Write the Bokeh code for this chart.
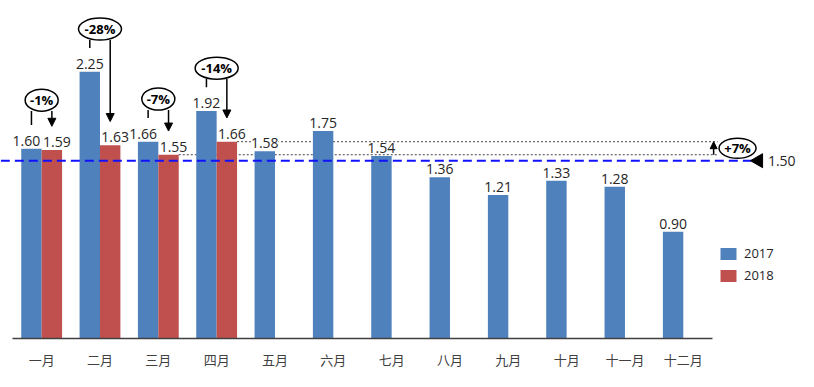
import math
from bokeh.plotting import figure
from bokeh.models import Range1d, FixedTicker, Arrow, NormalHead, Legend, LegendItem
from bokeh.core.properties import value
from bokeh.embed import file_html
from bokeh.resources import INLINE

# ---------------- data ----------------
months = ["一月", "二月", "三月", "四月", "五月", "六月",
          "七月", "八月", "九月", "十月", "十一月", "十二月"]
v2017 = [1.60, 2.25, 1.66, 1.92, 1.58, 1.75, 1.54, 1.36, 1.21, 1.33, 1.28, 0.90]
v2018 = [1.59, 1.63, 1.55, 1.66]
target = 1.50
series_names = ["2017", "2018"]

# ---------------- style ----------------
BLUE = "#4F81BD"
RED = "#C0504D"
TXT = "#262626"
AXT = "#404040"
FONT = "Open Sans"
CJK = "Noto Sans CJK SC"
W = 0.35
PPU = 119.6  # pixels per value unit (for annotation gaps)

p = figure(width=798, height=371, output_backend="svg", toolbar_location=None,
           x_range=Range1d(-0.2057, 13.475), y_range=Range1d(-0.0167, 2.851),
           y_axis_location=None,
           min_border_left=0, min_border_right=0, min_border_top=0,
           min_border_bottom=28)
p.outline_line_color = None
p.grid.visible = False

n = len(months)
xb = [i + 0.5 - W / 2 for i in range(n)]
xr = [i + 0.5 + W / 2 for i in range(len(v2018))]

# x axis
ax = p.xaxis[0]
ax.ticker = FixedTicker(ticks=[i + 0.5 for i in range(n)])
ax.major_label_overrides = {i + 0.5: m for i, m in enumerate(months)}
ax.axis_line_color = None
ax.major_tick_line_color = None
ax.minor_tick_line_color = None
ax.major_label_standoff = 3
ax.major_label_text_font = CJK
ax.major_label_text_font_size = "13px"
ax.major_label_text_color = AXT

# dotted comparison lines (behind bars)
i3, i4 = len(v2018) - 2, len(v2018) - 1
xend = 12.09
p.segment(x0=[i3 + 0.5 + W, i4 + 0.5 + W], y0=[v2018[i3], v2018[i4]],
          x1=[xend, xend], y1=[v2018[i3], v2018[i4]],
          line_color=AXT, line_width=1, line_dash="2 2")

# bars
rb = p.vbar(x=xb, top=v2017, width=W, fill_color=BLUE, line_color=None)
rr = p.vbar(x=xr, top=v2018, width=W, fill_color=RED, line_color=None)

# baseline
p.segment(x0=[0], y0=[0], x1=[n], y1=[0], line_color=AXT, line_width=1.5)

# target dashed line
p.segment(x0=[-0.2], y0=[target], x1=[12.67], y1=[target],
          line_color="#1010FF", line_width=2, line_dash="9 5")

# value labels
xoff_b = [(-5 if (i < len(v2018) and abs(v2017[i] - v2018[i]) < 0.15) else 0)
          for i in range(n)]
p.text(x=xb, y=v2017, text=[f"{v:.2f}" for v in v2017], text_align="center",
       text_baseline="bottom", y_offset=-3, x_offset=xoff_b, text_font=value(FONT),
       text_font_size="14px", text_color=TXT, background_fill_color="white")
p.text(x=xr, y=v2018, text=[f"{v:.2f}" for v in v2018], text_align="center",
       text_baseline="bottom", y_offset=-3, x_offset=5, text_font=value(FONT),
       text_font_size="14px", text_color=TXT, background_fill_color="white")

# year-over-year change annotations
half_h = 11 / PPU
for i, (a, b) in enumerate(zip(v2017, v2018)):
    pct = round((b / a - 1) * 100)
    txt = f"{pct:+d}%"
    ey = max(max(a, b) + 0.36, 2.01)
    cx = i + 0.5
    p.ellipse(x=[cx], y=[ey], width=[10 * len(txt) + 3], height=[22],
              width_units="screen", height_units="screen",
              fill_color="white", line_color="black", line_width=1.5)
    p.text(x=[cx], y=[ey], text=[txt], text_align="center", text_baseline="middle",
           text_font=value(FONT), text_font_style="bold", text_font_size="13px",
           text_color="black")
    p.segment(x0=[cx - W / 2], y0=[ey - half_h], x1=[cx - W / 2], y1=[a + 0.2],
              line_color="black", line_width=1.5)
    p.add_layout(Arrow(x_start=cx + W / 2, y_start=ey - half_h,
                       x_end=cx + W / 2, y_end=b + 0.2, line_width=1.5,
                       end=NormalHead(size=8, fill_color="black", line_color="black")))

# right-side +7% annotation
pct2 = round((v2018[i4] / v2018[i3] - 1) * 100)
p.add_layout(Arrow(x_start=12.02, y_start=v2018[i3], x_end=12.02, y_end=v2018[i4],
                   line_width=1.5,
                   end=NormalHead(size=7, fill_color="black", line_color="black")))
ym = (v2018[i3] + v2018[i4]) / 2
p.ellipse(x=[12.43], y=[ym], width=[37], height=[20],
          width_units="screen", height_units="screen",
          fill_color="white", line_color="black", line_width=1.5)
p.text(x=[12.43], y=[ym], text=[f"{pct2:+d}%"], text_align="center",
       text_baseline="middle", text_font=value(FONT), text_font_style="bold",
       text_font_size="13px", text_color="black")

# target marker and label
p.scatter(x=[12.79], y=[target], marker="triangle", size=14, angle=math.pi / 2,
          fill_color="black", line_color="black")
p.text(x=[12.95], y=[target], text=[f"{target:.2f}"], text_align="left",
       text_baseline="middle", text_font=value(FONT), text_font_size="14px",
       text_color=TXT)

# legend
legend = Legend(items=[LegendItem(label=series_names[0], renderers=[rb]),
                       LegendItem(label=series_names[1], renderers=[rr])],
                location=(718, 56), padding=0, margin=0, spacing=4,
                glyph_width=20, glyph_height=15, label_height=15,
                label_standoff=6, label_text_font=FONT, label_text_font_size="13px",
                label_text_color=TXT, border_line_color=None,
                background_fill_alpha=0)
p.add_layout(legend)

open("out.html", "w").write(file_html(p, INLINE))
